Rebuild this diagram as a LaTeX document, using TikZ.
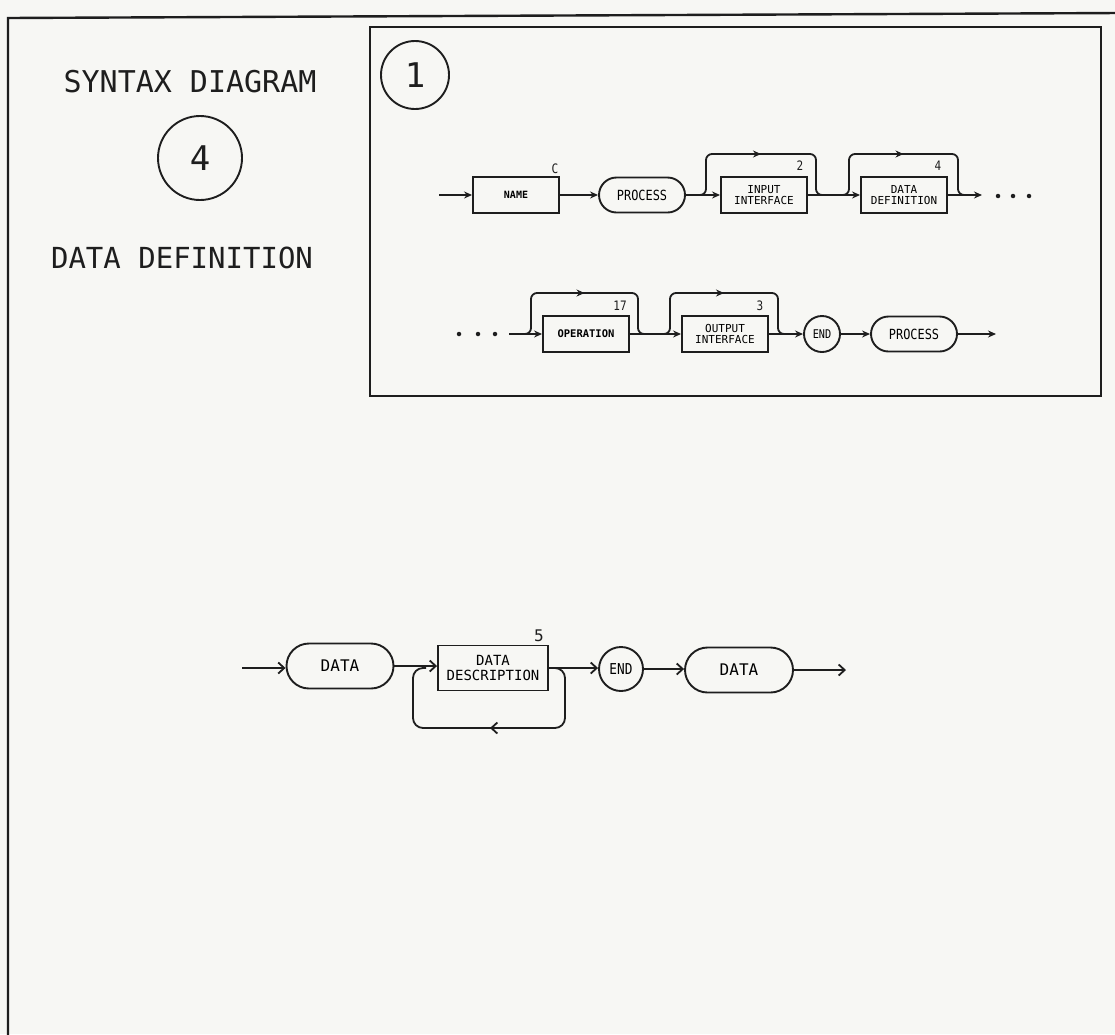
\documentclass[tikz,border=0pt]{standalone}
\usepackage{fontspec}
\newfontfamily\dmono{DejaVu Sans Mono}
\newfontfamily\dnarrow[FakeStretch=0.85]{DejaVu Sans Mono}
\usetikzlibrary{arrows.meta,shapes.misc,decorations.markings}

\definecolor{paper}{HTML}{F7F7F4}
\definecolor{ink}{HTML}{1E1E1E}

\tikzset{
  frameline/.style={draw=ink, line width=2.4pt},
  boxline/.style={draw=ink, line width=1.9pt},
  % upper (process) diagram
  pbox/.style={boxline, rectangle, minimum width=86pt, minimum height=36pt,
    inner sep=0pt, align=center, font=\dmono\fontsize{11}{11}\selectfont},
  poval/.style={boxline, rounded rectangle, minimum width=86pt, minimum height=35pt,
    inner sep=0pt, font=\dnarrow\fontsize{14}{14}\selectfont},
  pterm/.style={boxline, circle, minimum size=36pt, inner sep=0pt,
    font=\dnarrow\fontsize{12}{12}\selectfont},
  pnum/.style={inner sep=0pt, font=\dnarrow\fontsize{13}{13}\selectfont, text=ink},
  pflow/.style={draw=ink, line width=1.8pt, -{Stealth[length=8pt,width=7pt]}},
  pskip/.style={draw=ink, line width=1.8pt, rounded corners=6pt,
    decoration={markings, mark=at position 0.5 with {\arrow{Stealth[length=8pt,width=7pt]}}},
    postaction=decorate},
  % data definition diagram
  dbox/.style={boxline, rectangle, minimum width=110pt, minimum height=45pt,
    inner sep=0pt, align=center, font=\dmono\fontsize{14}{15}\selectfont},
  doval/.style={boxline, rounded rectangle, minimum width=107pt, minimum height=45pt,
    inner sep=0pt, font=\dmono\fontsize{16}{16}\selectfont},
  dterm/.style={boxline, circle, minimum size=44pt, inner sep=0pt,
    font=\dnarrow\fontsize{15}{15}\selectfont},
  dnum/.style={inner sep=0pt, font=\dmono\fontsize{16}{16}\selectfont, text=ink},
  dflow/.style={draw=ink, line width=1.8pt, -{Straight Barb[length=6pt,width=11pt]}},
  dloop/.style={draw=ink, line width=1.8pt, rounded corners=10pt,
    decoration={markings, mark=at position 0.5 with {\arrow{Straight Barb[length=6pt,width=11pt]}}},
    postaction=decorate},
  dotmark/.style={fill=ink, circle, minimum size=4.5pt, inner sep=0pt},
  title/.style={inner sep=0pt, text=ink, font=\dmono\fontsize{30}{30}\selectfont},
  badge/.style={boxline, circle, inner sep=0pt, text=ink}
}

\begin{document}
\begin{tikzpicture}[x=1pt,y=-1pt]
\useasboundingbox (0,0) rectangle (1115,1034);
\fill[paper] (0,0) rectangle (1115,1034);

% outer sheet frame (only the left and top edges fall on the sheet)
\draw[frameline] (8,1040) -- (8,18) -- (1120,13);

% heading on the left
\node[title] (heading) at (190,82) {SYNTAX DIAGRAM};
\node[badge, minimum size=84pt, font=\dmono\fontsize{34}{34}\selectfont] (four) at (200,158) {4};
\node[title, font=\dmono\fontsize{29}{29}\selectfont] (subject) at (182,258) {DATA DEFINITION};

% inset panel with the PROCESS diagram
\draw[boxline, line width=2.2pt] (370,27) rectangle (1101,396);
\node[badge, minimum size=68pt, font=\dmono\fontsize{34}{34}\selectfont] (one) at (415,75) {1};

% ---- first line of the PROCESS diagram
\coordinate (pin) at (439,195);
\node[pbox, font=\dmono\bfseries\fontsize{10}{10}\selectfont] (name) at (516,195) {NAME};
\node[pnum] (nname) at (555,169) {C};
\node[poval] (proc1) at (642,195) {PROCESS};
\node[pbox] (inp) at (764,195) {INPUT\\INTERFACE};
\node[pnum] (ninp) at (800,166) {2};
\node[pbox] (ddef) at (904,195) {DATA\\DEFINITION};
\node[pnum] (nddef) at (938,166) {4};
\coordinate (pout) at (982,195);

\draw[pflow] (pin) -- (name);
\draw[pflow] (name) -- (proc1);
\draw[pflow] (proc1) -- (inp);
\draw[pflow] (inp) -- (ddef);
\draw[pflow] (ddef) -- (pout);

\coordinate (inpA) at (697,195);
\coordinate (inpB) at (825,195);
\draw[pskip] (inpA) -| (706,154) -- (816,154) |- (inpB);
\coordinate (ddefA) at (840,195);
\coordinate (ddefB) at (967,195);
\draw[pskip] (ddefA) -| (849,154) -- (958,154) |- (ddefB);

\node[dotmark] (c1) at (998,196) {};
\node[dotmark] (c2) at (1013,196) {};
\node[dotmark] (c3) at (1029,196) {};

% ---- second line of the PROCESS diagram
\node[dotmark] (c4) at (459,334) {};
\node[dotmark] (c5) at (478,334) {};
\node[dotmark] (c6) at (495,334) {};
\coordinate (pin2) at (509,334);
\node[pbox, font=\dmono\bfseries\fontsize{10.5}{10.5}\selectfont] (oper) at (586,334) {OPERATION};
\node[pnum] (noper) at (620,306) {17};
\node[pbox] (outp) at (725,334) {OUTPUT\\INTERFACE};
\node[pnum] (noutp) at (760,306) {3};
\node[pterm] (end1) at (822,334) {END};
\node[poval] (proc2) at (914,334) {PROCESS};
\coordinate (pout2) at (996,334);

\draw[pflow] (pin2) -- (oper);
\draw[pflow] (oper) -- (outp);
\draw[pflow] (outp) -- (end1);
\draw[pflow] (end1) -- (proc2);
\draw[pflow] (proc2) -- (pout2);

\coordinate (operA) at (522,334);
\coordinate (operB) at (647,334);
\draw[pskip] (operA) -| (531,293) -- (638,293) |- (operB);
\coordinate (outpA) at (661,334);
\coordinate (outpB) at (787,334);
\draw[pskip] (outpA) -| (670,293) -- (778,293) |- (outpB);

% ---- DATA DEFINITION diagram
\coordinate (din) at (242,668);
\node[doval] (data1) at (340,666) {DATA};
\node[dbox] (ddesc) at (493,668) {DATA\\DESCRIPTION};
\node[dnum] (nddesc) at (539,636) {5};
\node[dterm] (end2) at (621,669) {END};
\node[doval, minimum width=108pt] (data2) at (739,670) {DATA};
\coordinate (dout) at (846,670);

\draw[dflow] (din) -- (din -| data1.west);
\draw[dflow] (data1.east) -- (data1.east -| ddesc.west);
\draw[dflow] (ddesc.east) -- (ddesc.east -| end2.west);
\draw[dflow] (end2.east) -- (end2.east -| data2.west);
\draw[dflow] (data2.east) -- (dout);

\coordinate (loopA) at (550,668);
\coordinate (loopB) at (426,668);
\draw[dloop] (loopA) -| (565,728) -| (413,668) -- (loopB);
\end{tikzpicture}
\end{document}
